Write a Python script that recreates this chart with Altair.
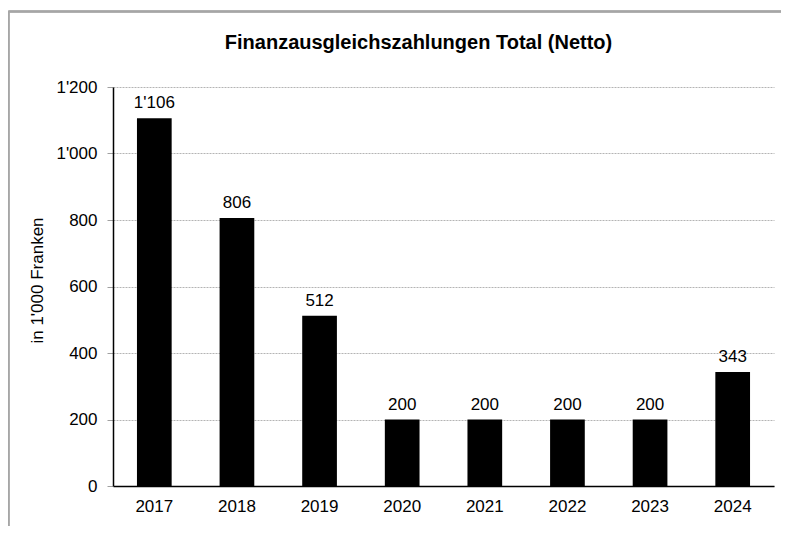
import altair as alt
import pandas as pd

years = ["2017", "2018", "2019", "2020", "2021", "2022", "2023", "2024"]
values = [1106, 806, 512, 200, 200, 200, 200, 343]
y_ticks = [0, 200, 400, 600, 800, 1000, 1200]

df = pd.DataFrame({"Jahr": years, "Wert": values})
df["Label"] = df["Wert"].map(lambda v: f"{v:,}".replace(",", "'"))

FONT = "Liberation Sans"
FS = 17

x_enc = alt.X(
    "Jahr:N",
    sort=years,
    scale=alt.Scale(paddingInner=0.58, paddingOuter=0.29),
    axis=alt.Axis(
        title=None,
        labelAngle=0,
        ticks=False,
        labelPadding=12,
        labelFontSize=FS,
        labelFont=FONT,
        labelColor="#000000",
        domainColor="#000000",
        domainWidth=1.5,
        grid=False,
    ),
)

y_enc = alt.Y(
    "Wert:Q",
    scale=alt.Scale(domain=[0, 1200], nice=False),
    axis=alt.Axis(
        title="in 1'000 Franken",
        values=y_ticks,
        labelExpr="replace(format(datum.value, ','), ',', \"'\")",
        labelFontSize=FS,
        labelFont=FONT,
        labelColor="#000000",
        labelPadding=10,
        tickSize=6,
        tickColor="#a0a0a0",
        domainColor="#000000",
        domainWidth=1.5,
        grid=True,
        gridColor="#b4b4b4",
        gridDash=[2, 1],
        gridWidth=1,
        titleFont=FONT,
        titleFontSize=FS,
        titleFontWeight="normal",
        titleColor="#000000",
        titleX=-67,
        titleY=193,
        titleAngle=-90,
        titleBaseline="bottom",
    ),
)

bars = alt.Chart(df).mark_bar(color="#000000").encode(x=x_enc, y=y_enc)

labels = alt.Chart(df).mark_text(
    font=FONT, fontSize=FS, color="#000000", baseline="alphabetic", dy=-10
).encode(x=alt.X("Jahr:N", sort=years), y="Wert:Q", text="Label:N")

border_top = alt.Chart(df).mark_rule(color="#a6a6a6", strokeWidth=1.5).encode(
    x=alt.value(-104.5), x2=alt.value(668), y=alt.value(-75.5)
)
border_left = alt.Chart(df).mark_rule(color="#a6a6a6", strokeWidth=1.5).encode(
    x=alt.value(-104.5), y=alt.value(-75.5), y2=alt.value(439)
)

chart = (
    alt.layer(border_top, border_left, bars, labels)
    .properties(
        width=661,
        height=399,
        autosize=alt.AutoSizeParams(type="none"),
        padding={"left": 105, "top": 79, "right": 7, "bottom": 40},
        title=alt.TitleParams(
            "Finanzausgleichszahlungen Total (Netto)",
            font=FONT,
            fontSize=20,
            fontWeight="bold",
            color="#000000",
            anchor="middle",
            dx=-25,
            offset=0,
            dy=58,
            baseline="alphabetic",
        ),
    )
    .configure_view(stroke=None)
)

chart.save("out.html", embed_options={"renderer": "svg", "actions": False})
